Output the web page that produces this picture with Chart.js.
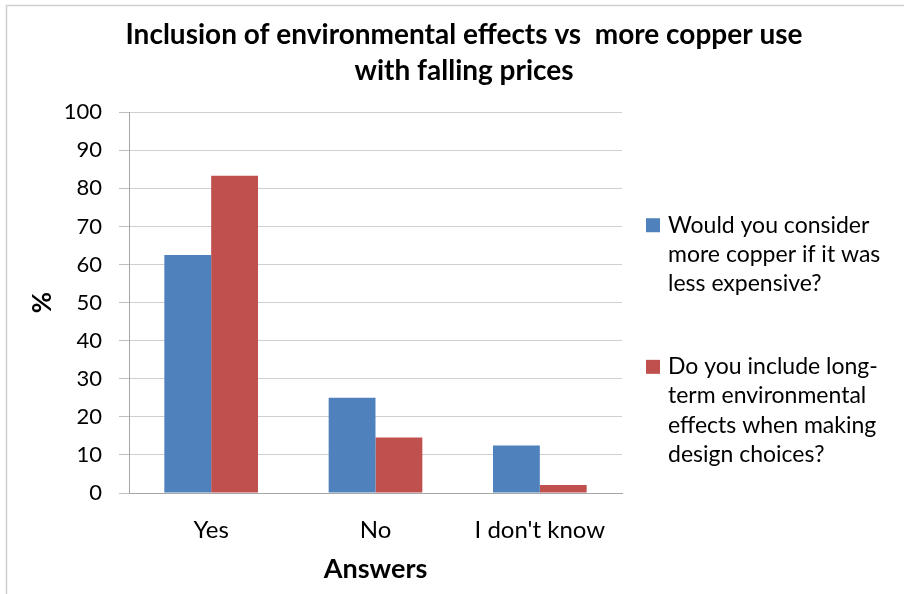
<!DOCTYPE html>
<html>
<head>
<meta charset="utf-8">
<script src="https://cdn.jsdelivr.net/npm/chart.js@4/dist/chart.umd.min.js"></script>
<style>
  html, body { margin: 0; padding: 0; background: #ffffff; }
  #wrap { width: 904px; height: 594px; position: relative; }
</style>
</head>
<body>
<div id="wrap"><canvas id="chart" width="904" height="594"></canvas></div>
<script>
// Survey answers (percent of respondents)
const categories = ['Yes', 'No', "I don't know"];
const considerMoreCopper = [62.5, 25, 12.5];
const includeEnvironmental = [83.3, 14.6, 2.1];

// Series names, broken into the lines shown in the side legend
const considerLines = ['Would you consider', 'more copper if it was', 'less expensive?'];
const environmentalLines = ['Do you include long-', 'term environmental', 'effects when making', 'design choices?'];

const titleLines = ['Inclusion of environmental effects vs  more copper use', 'with falling prices'];
const xAxisTitle = 'Answers';
const yAxisTitle = '%';
const yMin = 0, yMax = 100, yStep = 10;

const FONT = "Lato, 'Open Sans', 'Liberation Sans', sans-serif";
const BLUE = '#4f81bd';
const RED = '#c0504d';

const joinLines = lines => lines.join(' ').replace(/- /g, '-');

// White page with a thin grey frame around the chart
const frame = {
  id: 'frame',
  beforeDraw(chart) {
    const ctx = chart.ctx;
    ctx.save();
    ctx.fillStyle = '#ffffff';
    ctx.fillRect(0, 0, chart.width, chart.height);
    ctx.strokeStyle = '#cfcfcf';
    ctx.lineWidth = 1.5;
    ctx.beginPath();
    ctx.moveTo(6.5, chart.height);
    ctx.lineTo(6.5, 5.5);
    ctx.lineTo(chart.width, 5.5);
    ctx.stroke();
    ctx.restore();
  }
};

// Legend on the right with wrapped, multi-line entries.
// Registered as a layout box so it takes space beside the plot
// without narrowing the full-width title.
const sideLegend = {
  id: 'sideLegend',
  beforeInit(chart, args, opts) {
    const box = {
      position: 'right',
      weight: 100,
      fullSize: false,
      options: {},
      left: 0, top: 0, right: 0, bottom: 0, width: 0, height: 0,
      isHorizontal() { return false; },
      update(maxWidth, maxHeight) {
        this.width = opts.width;
        this.height = maxHeight;
      },
      draw() {
        const ctx = chart.ctx;
        ctx.save();
        ctx.font = opts.fontSize + 'px ' + FONT;
        ctx.textBaseline = 'middle';
        ctx.textAlign = 'left';
        let y = this.top + opts.offsetTop;
        chart.data.datasets.forEach(ds => {
          const lines = ds.legendLines;
          const bx = this.left + opts.gap;
          ctx.fillStyle = ds.backgroundColor;
          ctx.fillRect(bx, y - opts.boxSize / 2, opts.boxSize, opts.boxSize);
          ctx.fillStyle = '#000000';
          lines.forEach((line, k) => {
            ctx.fillText(line, bx + opts.boxSize + opts.textGap, y + k * opts.lineHeight);
          });
          y += lines.length * opts.lineHeight + opts.itemGap;
        });
        ctx.restore();
      }
    };
    Chart.layouts.addBox(chart, box);
  }
};

new Chart(document.getElementById('chart'), {
  type: 'bar',
  data: {
    labels: categories,
    datasets: [
      {
        label: joinLines(considerLines),
        legendLines: considerLines,
        data: considerMoreCopper,
        backgroundColor: BLUE,
        borderWidth: 0,
        categoryPercentage: 0.57,
        barPercentage: 1.0
      },
      {
        label: joinLines(environmentalLines),
        legendLines: environmentalLines,
        data: includeEnvironmental,
        backgroundColor: RED,
        borderWidth: 0,
        categoryPercentage: 0.57,
        barPercentage: 1.0
      }
    ]
  },
  options: {
    responsive: false,
    animation: false,
    devicePixelRatio: 1,
    layout: { padding: { left: 24, right: 0, top: 17, bottom: 0 } },
    plugins: {
      legend: { display: false },
      tooltip: { enabled: false },
      title: {
        display: true,
        text: titleLines,
        color: '#000000',
        font: { family: FONT, size: 28, weight: 'bold', lineHeight: 1.29 },
        padding: { top: 0, bottom: 23 }
      },
      sideLegend: {
        width: 282,
        gap: 24,
        boxSize: 14,
        textGap: 8,
        fontSize: 23,
        lineHeight: 29.2,
        offsetTop: 113,
        itemGap: 54
      }
    },
    scales: {
      x: {
        grid: { display: false },
        border: { display: true, color: '#a6a6a6', width: 1 },
        ticks: {
          color: '#000000',
          font: { family: FONT, size: 24 },
          padding: 15
        },
        title: {
          display: true,
          text: xAxisTitle,
          color: '#000000',
          font: { family: FONT, size: 27, weight: 'bold', lineHeight: 1.2 },
          padding: { top: 0, bottom: 9 }
        },
        afterFit(scale) { scale.height = 101; }
      },
      y: {
        min: yMin,
        max: yMax,
        ticks: {
          stepSize: yStep,
          color: '#000000',
          font: { family: FONT, size: 22 },
          padding: 17
        },
        grid: {
          color: '#d0d0d0',
          lineWidth: 1,
          drawTicks: true,
          tickLength: 10,
          tickColor: '#bfbfbf'
        },
        border: { display: true, color: '#a6a6a6', width: 1 },
        title: {
          display: true,
          text: yAxisTitle,
          color: '#000000',
          font: { family: FONT, size: 26, weight: 'bold', lineHeight: 1.2 },
          padding: { top: 3, bottom: 0 }
        },
        afterFit(scale) { scale.width = 105; }
      }
    }
  },
  plugins: [frame, sideLegend]
});
</script>
</body>
</html>
